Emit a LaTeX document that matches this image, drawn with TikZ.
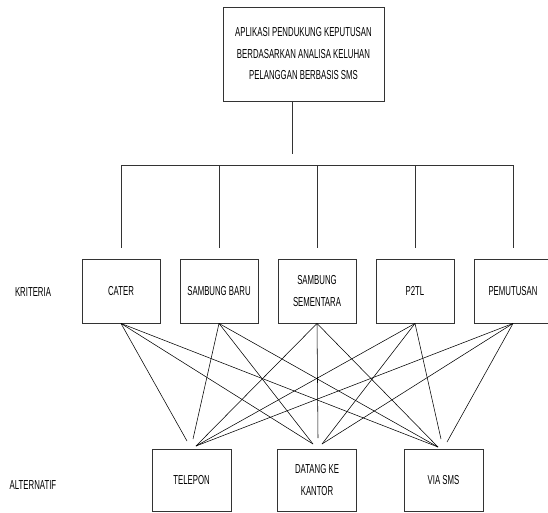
\documentclass[tikz,border=0pt]{standalone}
\usepackage{fontspec}
\setmainfont[FakeStretch=0.6]{Liberation Sans}
\begin{document}
\begin{tikzpicture}[x=1pt,y=-1pt,
  box/.style={draw,line width=0.9pt,draw=black!80,inner sep=0pt,align=center,
    font=\fontsize{13}{21.5}\selectfont},
  kbox/.style={box,minimum width=78pt,minimum height=64pt},
  abox/.style={box,minimum width=79pt,minimum height=62pt},
  lbl/.style={font=\fontsize{13}{21.5}\selectfont},
  tree/.style={line width=0.7pt,draw=black!80},
  link/.style={line width=0.55pt}]
\useasboundingbox (0,0) rectangle (548,512);
\node[box,minimum width=161pt,minimum height=94pt] (top) at (303.5,54)
  {APLIKASI PENDUKUNG KEPUTUSAN\\BERDASARKAN ANALISA KELUHAN\\PELANGGAN BERBASIS SMS};
% criteria
\node[kbox] (k1) at (121,291) {CATER};
\node[kbox] (k2) at (219,291) {SAMBUNG BARU};
\node[kbox] (k3) at (317,291) {SAMBUNG\\SEMENTARA};
\node[kbox] (k4) at (415,291) {P2TL};
\node[kbox] (k5) at (513,291) {PEMUTUSAN};
% alternatives
\node[abox] (a1) at (191.5,480) {TELEPON};
\node[abox] (a2) at (317,480) {DATANG KE\\KANTOR};
\node[abox] (a3) at (443.5,480) {VIA SMS};
% labels
\node[lbl] (lk) at (33,292) {KRITERIA};
\node[lbl] (la) at (33,485) {ALTERNATIF};
% tree
\coordinate (t1) at (292,154);
\draw[tree] (t1 |- top.south) -- (t1);
\coordinate (b1) at (121,165);
\coordinate (b5) at (514,165);
\draw[tree] (b1) -- (b5);
\foreach \k in {1,...,5}{
  \draw[tree] (k\k.north |- b1) -- ([yshift=11pt]k\k.north);
}
% endpoints
\coordinate (e11) at (187,441);
\coordinate (e21) at (193,439);
\coordinate (e31) at (196,446);
\coordinate (e12) at (313,444);
\coordinate (e32) at (318,438);
\coordinate (e42) at (322,444);
\coordinate (e13) at (438,447);
\coordinate (e43) at (441,439);
\coordinate (e53) at (447,442);
% links to TELEPON
\draw[link] (k1.south) -- (e11);
\draw[link] (k2.south) -- (e21);
\draw[link] (k3.south) -- (e31);
\draw[link] (k4.south) -- (e31);
\draw[link] (k5.south) -- (e31);
% links to DATANG KE KANTOR
\draw[link] (k1.south) -- (e12);
\draw[link] (k2.south) -- (e12);
\draw[link] (k3.south) -- (e32);
\draw[link] (k4.south) -- (e42);
\draw[link] (k5.south) -- (e42);
% links to VIA SMS
\draw[link] (k1.south) -- (e13);
\draw[link] (k2.south) -- (e13);
\draw[link] (k3.south) -- (e13);
\draw[link] (k4.south) -- (e43);
\draw[link] (k5.south) -- (e53);
\end{tikzpicture}
\end{document}
